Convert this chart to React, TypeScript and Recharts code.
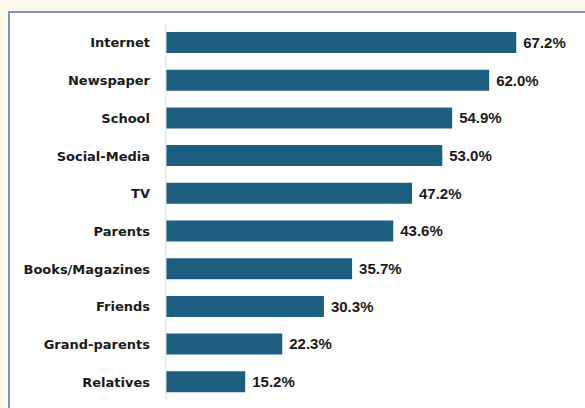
import { BarChart, Bar, XAxis, YAxis, LabelList } from "recharts";

const categories = [
  "Internet",
  "Newspaper",
  "School",
  "Social-Media",
  "TV",
  "Parents",
  "Books/Magazines",
  "Friends",
  "Grand-parents",
  "Relatives",
];
const shares = [67.2, 62.0, 54.9, 53.0, 47.2, 43.6, 35.7, 30.3, 22.3, 15.2];

const data = categories.map((name, i) => ({ name, value: shares[i] }));

export default function App() {
  return (
    <div style={{ position: "absolute", left: 0, top: 0, width: 585, height: 408, background: "#fdf9ea", overflow: "hidden" }}>
      <div
        style={{
          position: "absolute",
          left: 8,
          top: 11,
          width: 600,
          height: 420,
          background: "#fff",
          borderLeft: "2px solid #7f92b8",
          borderTop: "2px solid #7f92b8",
        }}
      />
      <div style={{ position: "absolute", left: 0, top: 0 }}>
        <BarChart
          width={585}
          height={408}
          data={data}
          layout="vertical"
          margin={{ top: 24, right: 2, bottom: 7, left: 0 }}
        >
          <XAxis type="number" domain={[0, 80]} hide />
          <YAxis
            type="category"
            dataKey="name"
            width={166}
            tickLine={false}
            tickSize={0}
            tickMargin={16}
            axisLine={{ stroke: "#d9d9d9" }}
            tick={{ fill: "#1a1a1a", fontSize: 13, fontWeight: 700, fontFamily: "DejaVu Sans" }}
            interval={0}
          />
          <Bar dataKey="value" fill="#1b5e80" barSize={21} isAnimationActive={false}>
            <LabelList
              dataKey="value"
              position="right"
              offset={7}
              formatter={(v: number) => `${v.toFixed(1)}%`}
              style={{ fill: "#1a1a1a", fontSize: 15, fontWeight: 700, fontFamily: "Liberation Sans" }}
            />
          </Bar>
        </BarChart>
      </div>
    </div>
  );
}
